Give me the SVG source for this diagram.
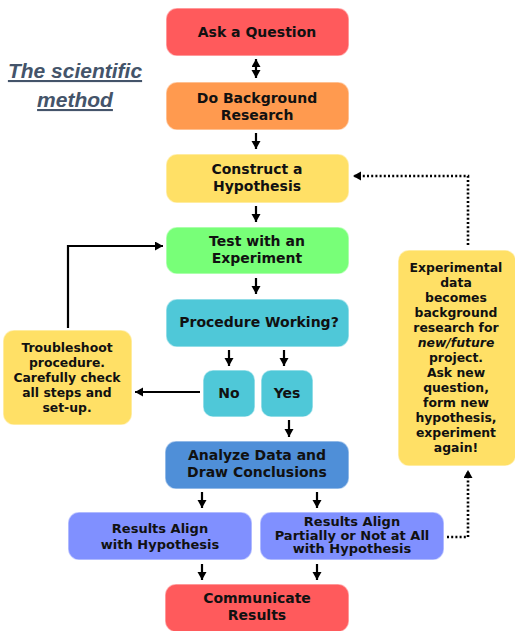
<svg xmlns="http://www.w3.org/2000/svg" width="515" height="631" viewBox="0 0 515 631">
<defs>
<marker id="ah" markerUnits="userSpaceOnUse" markerWidth="9" markerHeight="10" refX="8" refY="4.5" orient="auto-start-reverse">
<path d="M0,0 L8,4.5 L0,9 Z" fill="#000"/>
</marker>
<style>
.box{stroke:#ffffff;stroke-opacity:0.5;stroke-width:1.5}
.t{font-family:"DejaVu Sans",Verdana,sans-serif;font-weight:bold;fill:#111;text-anchor:middle}
.m{font-size:14px}
.s{font-size:13px}
.x{font-size:12.4px}
.c{fill:none;stroke:#000;stroke-width:2.2}
.d{fill:none;stroke:#000;stroke-width:2.6;stroke-dasharray:2 2.2}
.title{font-family:"Liberation Sans",Arial,sans-serif;font-weight:bold;font-style:italic;font-size:21px;fill:#44546A;text-anchor:middle;text-decoration:underline}
</style>
</defs>
<rect width="515" height="631" fill="#fff"/>
<g id="title">
<text class="title" x="75" y="78">The scientific</text>
<text class="title" x="75" y="107">method</text>
</g>
<g id="connectors">
<line class="c" x1="256" y1="59" x2="256" y2="78" marker-start="url(#ah)" marker-end="url(#ah)"/>
<line class="c" x1="256" y1="133" x2="256" y2="149" marker-end="url(#ah)"/>
<line class="c" x1="256" y1="206" x2="256" y2="222" marker-end="url(#ah)"/>
<line class="c" x1="256" y1="278" x2="256" y2="294" marker-end="url(#ah)"/>
<line class="c" x1="229" y1="350" x2="229" y2="366" marker-end="url(#ah)"/>
<line class="c" x1="284" y1="350" x2="284" y2="366" marker-end="url(#ah)"/>
<line class="c" x1="289" y1="420" x2="289" y2="437" marker-end="url(#ah)"/>
<line class="c" x1="202" y1="492" x2="202" y2="508" marker-end="url(#ah)"/>
<line class="c" x1="317" y1="492" x2="317" y2="508" marker-end="url(#ah)"/>
<line class="c" x1="202" y1="564" x2="202" y2="580" marker-end="url(#ah)"/>
<line class="c" x1="317" y1="564" x2="317" y2="580" marker-end="url(#ah)"/>
<line class="c" x1="200" y1="392" x2="135" y2="392" marker-end="url(#ah)"/>
<polyline class="c" points="68,328 68,246 163,246" marker-end="url(#ah)"/>
<polyline class="d" points="468,245 468,176 353,176" marker-end="url(#ah)"/>
<polyline class="d" points="447,537 468,537 468,470" marker-end="url(#ah)"/>
</g>
<g id="ask">
<rect class="box" x="166" y="8" width="183" height="48" rx="11" fill="#FF5A5C"/>
<text class="t m" x="257" y="37">Ask a Question</text>
</g>
<g id="background">
<rect class="box" x="166" y="82" width="183" height="48" rx="11" fill="#FF9A4F"/>
<text class="t m" x="257" y="103">Do Background</text>
<text class="t m" x="257" y="120">Research</text>
</g>
<g id="hypothesis">
<rect class="box" x="166" y="154" width="183" height="49" rx="11" fill="#FFE066"/>
<text class="t m" x="257" y="174">Construct a</text>
<text class="t m" x="257" y="191">Hypothesis</text>
</g>
<g id="experiment">
<rect class="box" x="166" y="227" width="183" height="47" rx="11" fill="#78FF78"/>
<text class="t m" x="257" y="246">Test with an</text>
<text class="t m" x="257" y="263">Experiment</text>
</g>
<g id="procedure">
<rect class="box" x="166" y="299" width="183" height="48" rx="11" fill="#4FC8D8"/>
<text class="t m" x="259" y="327">Procedure Working?</text>
</g>
<g id="no">
<rect class="box" x="203" y="370" width="52" height="47" rx="10" fill="#4FC8D8"/>
<text class="t m" x="229" y="398">No</text>
</g>
<g id="yes">
<rect class="box" x="261" y="370" width="52" height="47" rx="10" fill="#4FC8D8"/>
<text class="t m" x="287" y="398">Yes</text>
</g>
<g id="troubleshoot">
<rect class="box" x="3" y="330" width="129" height="95" rx="11" fill="#FFE066"/>
<text class="t x" x="67" y="352">Troubleshoot</text>
<text class="t x" x="67" y="367">procedure.</text>
<text class="t x" x="67" y="382">Carefully check</text>
<text class="t x" x="67" y="397">all steps and</text>
<text class="t x" x="67" y="412">set-up.</text>
</g>
<g id="analyze">
<rect class="box" x="165" y="441" width="184" height="48" rx="11" fill="#4F8FD8"/>
<text class="t m" x="257" y="460">Analyze Data and</text>
<text class="t m" x="257" y="477">Draw Conclusions</text>
</g>
<g id="align">
<rect class="box" x="68" y="512" width="184" height="48" rx="11" fill="#8090FF"/>
<text class="t s" x="160" y="533">Results Align</text>
<text class="t s" x="160" y="549">with Hypothesis</text>
</g>
<g id="partial">
<rect class="box" x="260" y="512" width="184" height="48" rx="11" fill="#8090FF"/>
<text class="t s" x="352" y="526">Results Align</text>
<text class="t s" x="352" y="539.5">Partially or Not at All</text>
<text class="t s" x="352" y="553">with Hypothesis</text>
</g>
<g id="communicate">
<rect class="box" x="165" y="584" width="184" height="48" rx="11" fill="#FF5A5C"/>
<text class="t m" x="257" y="603">Communicate</text>
<text class="t m" x="257" y="620">Results</text>
</g>
<g id="experimental-data">
<rect class="box" x="398" y="250" width="118" height="216" rx="11" fill="#FFE066"/>
<text class="t x" x="456" y="272">Experimental</text>
<text class="t x" x="456" y="287">data</text>
<text class="t x" x="456" y="302">becomes</text>
<text class="t x" x="456" y="317">background</text>
<text class="t x" x="456" y="332">research for</text>
<text class="t x" x="456" y="347" font-style="italic" font-weight="normal">new/future</text>
<text class="t x" x="456" y="362">project.</text>
<text class="t x" x="456" y="377">Ask new</text>
<text class="t x" x="456" y="392">question,</text>
<text class="t x" x="456" y="407">form new</text>
<text class="t x" x="456" y="422">hypothesis,</text>
<text class="t x" x="456" y="437">experiment</text>
<text class="t x" x="456" y="452">again!</text>
</g>
</svg>
